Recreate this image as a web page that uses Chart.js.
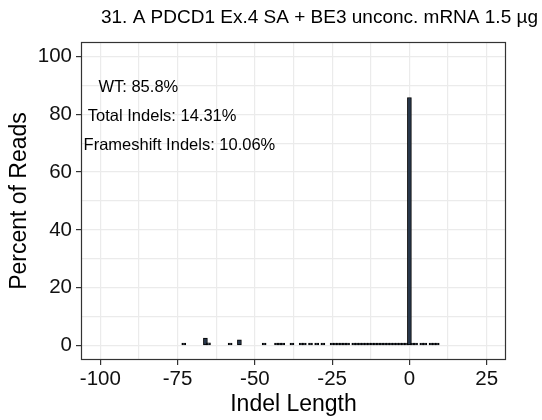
<!DOCTYPE html>
<html>
<head>
<meta charset="utf-8">
<script src="https://cdn.jsdelivr.net/npm/chart.js@4/dist/chart.umd.min.js"></script>
<style>
    html, body { margin: 0; padding: 0; background: #fff; }
    #indelChart { display: block; }
</style>
</head>
<body>
<canvas id="indelChart" width="542" height="420"></canvas>
<script>
const chartTitle = '31. A PDCD1 Ex.4 SA + BE3 unconc. mRNA 1.5 µg';

// indel size (bp) and percent of reads for each bar
const indelLengths = [-73, -66, -65, -58, -55, -47, -43, -42, -41, -38, -35, -34, -32, -30, -28,
    -25, -24, -23, -22, -21, -20, -18, -17, -16, -15, -14, -13, -12, -11, -10,
    -9, -8, -7, -6, -5, -4, -3, -2, -1, 0, 1, 2, 4, 5, 7, 8, 9];
const readPercents = [0.4, 2.6, 0.9, 0.3, 2.0, 0.3, 0.3, 0.8, 0.3, 0.3, 0.3, 0.3, 0.3, 0.3, 0.6,
    0.3, 0.3, 0.8, 0.5, 0.3, 0.3, 0.2, 0.2, 0.2, 0.2, 0.2, 0.2, 0.2, 0.3, 0.2,
    0.2, 0.2, 0.2, 0.2, 0.2, 0.2, 0.3, 0.3, 0.7, 85.8, 0.3, 0.2, 0.3, 0.2, 0.2, 0.2, 0.2];

const xTicks = [-100, -87.5, -75, -62.5, -50, -37.5, -25, -12.5, 0, 12.5, 25];
const yTicks = [0, 10, 20, 30, 40, 50, 60, 70, 80, 90, 100];

const statLabels = ['WT: 85.8%', 'Total Indels: 14.31%', 'Frameshift Indels: 10.06%'];

const FONT = "'Liberation Sans', Arial, Helvetica, sans-serif";

// title, panel border and the stat text, drawn like ggplot does
const ggExtras = {
    id: 'ggExtras',
    afterDraw(chart) {
        const { ctx, chartArea: a, scales: { x, y } } = chart;
        ctx.save();
        ctx.strokeStyle = '#333333';
        ctx.lineWidth = 1.2;
        ctx.strokeRect(a.left + 0.5, a.top + 0.5, a.right - a.left - 1, a.bottom - a.top - 1);

        ctx.fillStyle = '#000';
        ctx.font = '19px ' + FONT;
        ctx.textAlign = 'right';
        ctx.textBaseline = 'middle';
        ctx.fillText(chartTitle, 538, 18);

        ctx.font = '16.5px ' + FONT;
        ctx.textAlign = 'center';
        const spots = [[-87.7, 89.4], [-80, 79.3], [-74.4, 69.3]];
        statLabels.forEach((t, i) => {
            ctx.fillText(t, x.getPixelForValue(spots[i][0]), y.getPixelForValue(spots[i][1]));
        });
        ctx.restore();
    }
};

const ctx = document.getElementById('indelChart').getContext('2d');

new Chart(ctx, {
    type: 'bar',
    data: {
        datasets: [{
            data: indelLengths.map((len, i) => ({ x: len, y: readPercents[i] })),
            backgroundColor: '#26364a',
            borderColor: '#000000',
            borderWidth: 1,
            borderSkipped: false,
            barThickness: 4,
            minBarLength: 2.5,
        }],
    },
    options: {
        responsive: false,
        animation: false,
        devicePixelRatio: 1,
        layout: { padding: { top: 42, right: 36, left: 0, bottom: 0 } },
        plugins: {
            legend: { display: false },
            tooltip: { enabled: false },
        },
        scales: {
            x: {
                type: 'linear',
                offset: false,
                min: -106.25,
                max: 31.25,
                afterBuildTicks: s => { s.ticks = xTicks.map(v => ({ value: v })); },
                afterFit: s => { s.height = 60; },
                ticks: {
                    autoSkip: false,
                    maxRotation: 0,
                    padding: 2,
                    color: '#111',
                    font: { family: FONT, size: 20.5 },
                    callback: v => (v % 25 === 0 ? v : ''),
                },
                grid: {
                    offset: false,
                    color: '#ebebeb',
                    lineWidth: 1.2,
                    tickLength: 5,
                    tickColor: c => (c.tick && c.tick.value % 25 === 0 ? '#333333' : 'rgba(0,0,0,0)'),
                },
                border: { display: false },
                title: {
                    display: true,
                    text: 'Indel Length',
                    color: '#000',
                    font: { family: FONT, size: 23 },
                    padding: { top: 0, bottom: 2 },
                },
            },
            y: {
                min: -5,
                max: 105,
                afterBuildTicks: s => { s.ticks = yTicks.map(v => ({ value: v })); },
                afterFit: s => { s.width = 81; },
                ticks: {
                    autoSkip: false,
                    padding: 4,
                    color: '#111',
                    font: { family: FONT, size: 20.5 },
                    callback: v => (v % 20 === 0 ? v : ''),
                },
                grid: {
                    color: '#ebebeb',
                    lineWidth: 1.2,
                    tickLength: 5,
                    tickColor: c => (c.tick && c.tick.value % 20 === 0 ? '#333333' : 'rgba(0,0,0,0)'),
                },
                border: { display: false },
                title: {
                    display: true,
                    text: 'Percent of Reads',
                    color: '#000',
                    font: { family: FONT, size: 23 },
                    padding: { top: 6, bottom: 0 },
                },
            },
        },
    },
    plugins: [ggExtras],
});
</script>
</body>
</html>
